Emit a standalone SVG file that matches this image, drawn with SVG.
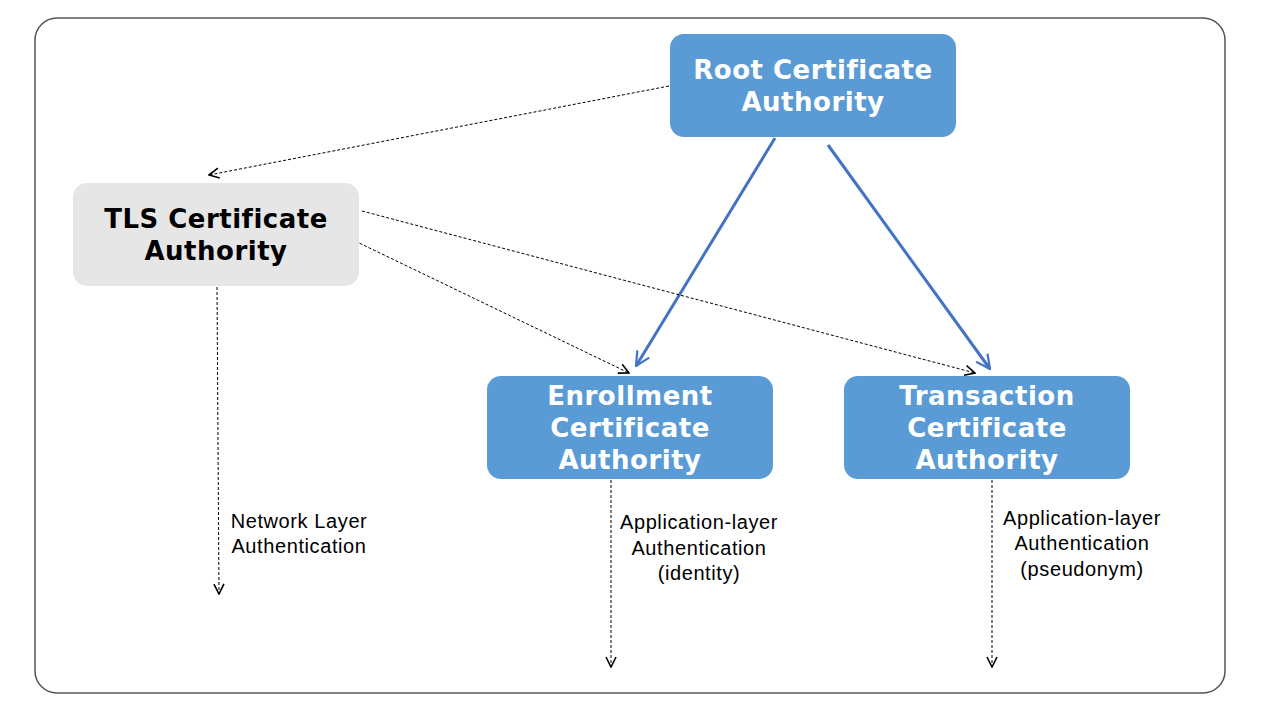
<svg xmlns="http://www.w3.org/2000/svg" width="1280" height="720" viewBox="0 0 1280 720">
<style>
.frame{fill:#fff;stroke:#555;stroke-width:1.5}
.blue{fill:#5b9bd5}
.grey{fill:#e6e6e6}
.t{font-family:"DejaVu Sans",sans-serif;font-weight:bold;font-size:26px;letter-spacing:0.5px;text-anchor:middle}
.tw{fill:#fff}
.tb{fill:#000}
.lbl{font-family:"Liberation Sans",Arial,sans-serif;font-size:20px;letter-spacing:0.6px;text-anchor:middle;fill:#000}
.dash{fill:none;stroke:#000;stroke-width:1;stroke-dasharray:3,2}
.solid{fill:none;stroke:#4472c4;stroke-width:3}
</style>
<defs>
<marker id="ah" viewBox="0 0 12 12" refX="11" refY="6" markerWidth="12" markerHeight="12" markerUnits="userSpaceOnUse" orient="auto">
<path d="M1,1 L11,6 L1,11" fill="none" stroke="#000" stroke-width="1.6"/>
</marker>
<marker id="ab" viewBox="0 0 16 16" refX="15" refY="8" markerWidth="16" markerHeight="16" markerUnits="userSpaceOnUse" orient="auto">
<path d="M1,1 L15,8 L1,15" fill="none" stroke="#4472c4" stroke-width="2.2"/>
</marker>
</defs>
<rect class="frame" x="35" y="18" width="1190" height="675" rx="22"/>
<g id="connectors">
<line class="dash" x1="669" y1="86" x2="209" y2="175" marker-end="url(#ah)"/>
<line class="solid" x1="775" y1="138" x2="636" y2="366" marker-end="url(#ab)"/>
<line class="solid" x1="828" y1="145" x2="990" y2="369" marker-end="url(#ab)"/>
<line class="dash" x1="355" y1="241" x2="629" y2="373" marker-end="url(#ah)"/>
<line class="dash" x1="362" y1="211" x2="975" y2="373" marker-end="url(#ah)"/>
<line class="dash" x1="217" y1="287" x2="219" y2="594" marker-end="url(#ah)"/>
<line class="dash" x1="611" y1="480" x2="611" y2="667" marker-end="url(#ah)"/>
<line class="dash" x1="992" y1="480" x2="992" y2="667" marker-end="url(#ah)"/>
</g>
<g id="root">
<rect class="blue" x="670" y="34" width="286" height="103" rx="14"/>
<text class="t tw" x="813" y="79">Root Certificate</text>
<text class="t tw" x="813" y="111">Authority</text>
</g>
<g id="tls">
<rect class="grey" x="73" y="183" width="286" height="103" rx="14"/>
<text class="t tb" x="216" y="228">TLS Certificate</text>
<text class="t tb" x="216" y="260">Authority</text>
</g>
<g id="enrollment">
<rect class="blue" x="487" y="376" width="286" height="103" rx="14"/>
<text class="t tw" x="630" y="405">Enrollment</text>
<text class="t tw" x="630" y="437">Certificate</text>
<text class="t tw" x="630" y="469">Authority</text>
</g>
<g id="transaction">
<rect class="blue" x="844" y="376" width="286" height="103" rx="14"/>
<text class="t tw" x="987" y="405">Transaction</text>
<text class="t tw" x="987" y="437">Certificate</text>
<text class="t tw" x="987" y="469">Authority</text>
</g>
<g id="labels">
<text class="lbl" x="299" y="528">Network Layer</text>
<text class="lbl" x="299" y="553">Authentication</text>
<text class="lbl" x="699" y="529">Application-layer</text>
<text class="lbl" x="699" y="555">Authentication</text>
<text class="lbl" x="699" y="580">(identity)</text>
<text class="lbl" x="1082" y="525">Application-layer</text>
<text class="lbl" x="1082" y="550">Authentication</text>
<text class="lbl" x="1082" y="576">(pseudonym)</text>
</g>
</svg>
